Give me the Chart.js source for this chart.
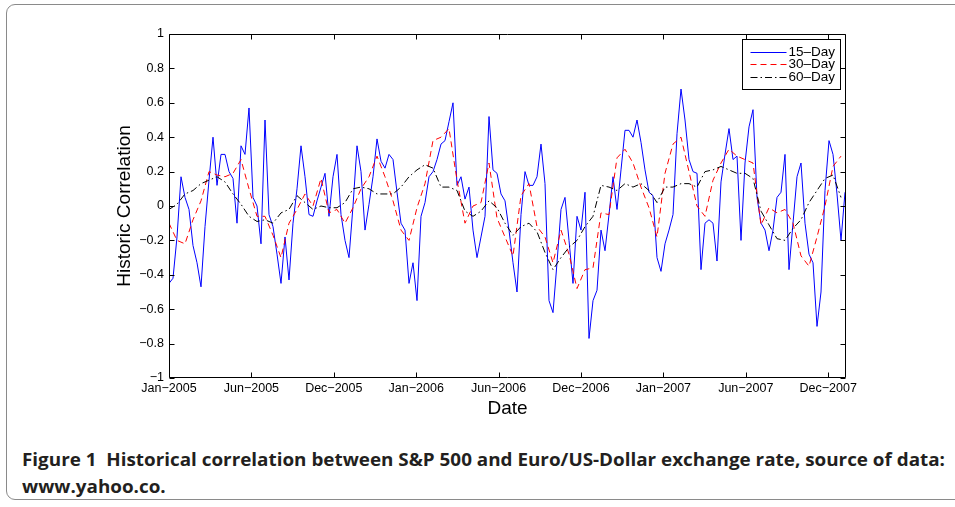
<!DOCTYPE html>
<html><head><meta charset="utf-8">
<script src="https://cdn.jsdelivr.net/npm/chart.js@4.4.1/dist/chart.umd.min.js"></script>
<style>
html,body{margin:0;padding:0;background:#fff;width:955px;height:507px;overflow:hidden;}
#frame{position:absolute;left:6px;top:4px;width:1000px;height:496px;border:1.5px solid #8a8a8a;border-radius:9px;box-sizing:border-box;}
#wrap{position:absolute;left:0;top:0;width:955px;height:430px;}
#cap{position:absolute;left:22px;top:446px;font-family:'Open Sans',sans-serif;font-weight:700;font-size:17px;line-height:27px;color:#231f20;white-space:nowrap;transform-origin:0 0;}
</style></head><body>
<div id="frame"></div>
<div id="wrap"><canvas id="c" width="955" height="430"></canvas></div>
<div id="cap"><div id="l1">Figure 1&nbsp;&nbsp;Historical correlation between S&amp;P 500 and Euro/US-Dollar exchange rate, source of data:</div><div id="l2">www.yahoo.co.</div></div>
<script>
// ---- data ----
const X_TICK_LABELS = ['Jan\u22122005','Jun\u22122005','Dec\u22122005','Jan\u22122006','Jun\u22122006','Dec\u22122006','Jan\u22122007','Jun\u22122007','Dec\u22122007'];
const X_TICK_POS = [0, 20.6, 41.2, 61.8, 82.4, 103, 123.6, 144.2, 164.8]; // observation index of each date tick
const X_MAX = 169.25;
const Y_TICKS = [-1,-0.8,-0.6,-0.4,-0.2,0,0.2,0.4,0.6,0.8,1];
const SERIES_LABELS = ['15\u2013Day','30\u2013Day','60\u2013Day'];

// 15-day correlation, one value per observation step
const corr15 = [
-0.45,-0.42,-0.18,0.17,0.05,-0.02,-0.23,-0.33,-0.47,-0.12,
0.15,0.40,0.12,0.30,0.30,0.20,0.16,-0.10,0.35,0.30,
0.57,0.05,0.00,-0.22,0.50,-0.05,-0.12,-0.28,-0.45,-0.18,
-0.43,-0.10,0.10,0.35,0.17,-0.05,-0.06,0.03,0.11,0.19,
-0.06,0.17,0.30,-0.05,-0.20,-0.30,0.00,0.35,0.20,-0.14,
0.01,0.17,0.39,0.26,0.22,0.30,0.27,0.08,-0.10,-0.14,
-0.45,-0.33,-0.55,-0.06,0.02,0.17,0.20,0.27,0.36,0.38,
0.49,0.60,0.12,0.17,0.04,0.11,-0.14,-0.30,-0.18,-0.06,
0.52,0.21,0.19,0.07,0.03,-0.14,-0.33,-0.50,-0.05,0.20,
0.12,0.12,0.17,0.36,0.13,-0.55,-0.62,-0.33,-0.02,0.05,
-0.20,-0.45,-0.06,-0.14,0.08,-0.77,-0.55,-0.49,-0.14,-0.26,
-0.05,0.17,-0.02,0.21,0.44,0.44,0.40,0.50,0.37,0.21,
0.08,0.06,-0.30,-0.38,-0.22,-0.14,-0.05,0.42,0.68,0.50,
0.27,0.20,0.19,-0.37,-0.10,-0.08,-0.10,-0.32,0.14,0.30,
0.45,0.27,0.29,-0.20,0.25,0.46,0.56,0.05,-0.10,-0.14,
-0.26,-0.14,0.05,0.08,0.30,-0.37,-0.10,0.17,0.25,-0.10,
-0.28,-0.33,-0.70,-0.50,0.09,0.38,0.30,0.07,-0.20,0.08
];
// 30-day correlation, one value every two observation steps
const corr30 = [
-0.10,-0.20,-0.22,-0.08,0.03,0.20,0.18,0.17,0.19,0.27,
0.10,-0.06,-0.06,-0.17,-0.30,-0.10,-0.02,0.07,0.00,0.16,
-0.04,-0.02,-0.10,-0.01,0.10,0.17,0.29,0.17,0.03,-0.14,
-0.20,-0.01,0.13,0.38,0.40,0.45,0.15,-0.10,0.00,0.02,
0.25,-0.07,-0.18,-0.29,0.06,0.13,-0.12,-0.18,-0.33,-0.14,
-0.28,-0.48,-0.37,-0.36,-0.04,-0.05,0.28,0.33,0.25,0.11,
-0.01,-0.18,0.19,0.36,0.40,0.20,0.00,-0.06,0.15,0.25,
0.33,0.29,0.27,0.25,-0.11,-0.01,-0.04,-0.02,-0.10,-0.29,
-0.35,-0.18,0.00,0.23,0.29
];
// 60-day correlation, one value every two observation steps
const corr60 = [
-0.02,0.01,0.07,0.09,0.13,0.15,0.17,0.14,0.07,0.01,
-0.06,-0.09,-0.08,-0.10,-0.04,-0.02,0.06,0.02,-0.02,0.00,
-0.01,-0.01,0.02,0.10,0.11,0.10,0.07,0.07,0.07,0.11,
0.17,0.21,0.24,0.22,0.11,0.11,0.09,-0.03,-0.06,-0.03,
0.03,-0.01,-0.10,-0.17,-0.12,-0.10,-0.15,-0.27,-0.37,-0.30,
-0.24,-0.20,-0.12,-0.06,0.12,0.11,0.09,0.13,0.11,0.13,
0.09,0.02,0.11,0.11,0.13,0.13,0.11,0.20,0.21,0.23,
0.21,0.19,0.19,0.16,-0.03,-0.11,-0.19,-0.20,-0.13,-0.08,
0.02,0.09,0.16,0.18,0.05
];

const toPts = (arr, step) => arr.map((v, i) => ({x: i * step, y: v}));

const FONT = "'Liberation Sans', Arial, Helvetica, sans-serif";

const framePlugin = {
  id: 'matlabFrame',
  afterDatasetsDraw(chart) {
    const {ctx, chartArea: a, scales: {x, y}} = chart;
    ctx.save();
    ctx.strokeStyle = '#000';
    ctx.lineWidth = 1;
    const L = Math.round(a.left) + 0.5, R = Math.round(a.right) - 0.5;
    const T = Math.round(a.top) + 0.5, B = Math.round(a.bottom) - 0.5;
    ctx.beginPath();
    ctx.rect(L, T, R - L, B - T);
    const tl = 5;
    Y_TICKS.forEach(v => {
      const py = Math.round(y.getPixelForValue(v)) + 0.5;
      ctx.moveTo(L, py); ctx.lineTo(L + tl, py);
      ctx.moveTo(R, py); ctx.lineTo(R - tl, py);
    });
    X_TICK_POS.forEach(v => {
      const px = Math.round(x.getPixelForValue(v)) + 0.5;
      ctx.moveTo(px, B); ctx.lineTo(px, B - tl);
      ctx.moveTo(px, T); ctx.lineTo(px, T + tl);
    });
    ctx.stroke();
    ctx.restore();
  },
  afterDraw(chart) {
    const {ctx, chartArea: a} = chart;
    const w = 98, h = 50;
    const bx = Math.round(a.right) - 6 - w + 0.5, by = Math.round(a.top) + 5 + 0.5;
    ctx.save();
    ctx.fillStyle = '#fff';
    ctx.fillRect(bx, by, w, h);
    ctx.strokeStyle = '#000';
    ctx.lineWidth = 1;
    ctx.strokeRect(bx, by, w, h);
    ctx.font = "13.5px " + FONT;
    ctx.textBaseline = 'middle';
    ctx.textAlign = 'left';
    chart.data.datasets.forEach((ds, i) => {
      const ry = by + 12 + i * 12.5;
      ctx.beginPath();
      ctx.setLineDash(ds.borderDash || []);
      ctx.strokeStyle = ds.borderColor;
      ctx.lineWidth = 1;
      ctx.moveTo(bx + 8, Math.round(ry) + 0.5);
      ctx.lineTo(bx + 44, Math.round(ry) + 0.5);
      ctx.stroke();
      ctx.setLineDash([]);
      ctx.fillStyle = '#000';
      ctx.fillText(ds.label, bx + 46, ry + 0.5);
    });
    ctx.restore();
  }
};

new Chart(document.getElementById('c'), {
  type: 'line',
  data: {
    datasets: [
      {label: SERIES_LABELS[0], data: toPts(corr15, 1), borderColor: '#0000ff', borderWidth: 1, pointRadius: 0, order: 2, tension: 0},
      {label: SERIES_LABELS[1], data: toPts(corr30, 2), borderColor: '#ff0000', borderWidth: 1, borderDash: [6, 4], pointRadius: 0, order: 1, tension: 0},
      {label: SERIES_LABELS[2], data: toPts(corr60, 2), borderColor: '#000000', borderWidth: 1, borderDash: [7, 3, 1.5, 3], pointRadius: 0, order: 0, tension: 0}
    ]
  },
  options: {
    responsive: false,
    animation: false,
    devicePixelRatio: 1,
    layout: {padding: {top: 34, right: 109, left: 0, bottom: 0}},
    plugins: {legend: {display: false}, tooltip: {enabled: false}},
    scales: {
      x: {
        type: 'linear', min: 0, max: X_MAX,
        grid: {display: false, drawTicks: false}, border: {display: false},
        afterBuildTicks: s => { s.ticks = X_TICK_POS.map(v => ({value: v})); },
        afterFit: s => { s.height = 52; },
        ticks: {autoSkip: false, maxRotation: 0, padding: 3, color: '#000',
          font: {family: FONT, size: 12.5},
          callback: (v, i) => X_TICK_LABELS[i]},
        title: {display: true, text: 'Date', color: '#000', font: {family: FONT, size: 19}, padding: {top: 0, bottom: 9.6}}
      },
      y: {
        min: -1, max: 1,
        grid: {display: false, drawTicks: false}, border: {display: false},
        afterBuildTicks: s => { s.ticks = Y_TICKS.map(v => ({value: v})); },
        afterFit: s => { s.width = 169; },
        ticks: {padding: 5, color: '#000', font: {family: FONT, size: 12.5},
          callback: v => { const r = Math.round(Math.abs(v) * 10) / 10; return (v < -1e-9 ? '\u2212' : '') + r; }},
        title: {display: true, text: 'Historic Correlation', color: '#000', font: {family: FONT, size: 19}, padding: {top: 113.6, bottom: 0}}
      }
    }
  },
  plugins: [framePlugin]
});

// fit caption width to reference
const cap = document.getElementById('cap');
const w1 = document.getElementById('l1').getBoundingClientRect().width;
cap.style.transform = 'scaleX(' + (923 / w1) + ')';
</script>
</body></html>
